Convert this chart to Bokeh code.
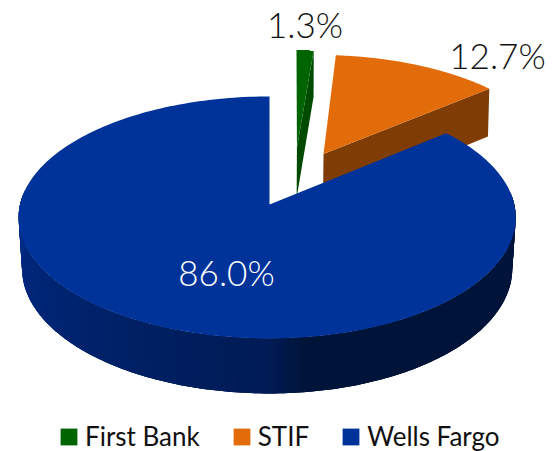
import numpy as np
from bokeh.plotting import figure
from bokeh.models import Range1d, Legend, LegendItem, ColumnDataSource
from bokeh.core.properties import value
from bokeh.embed import file_html
from bokeh.resources import INLINE

categories = ["First Bank", "STIF", "Wells Fargo"]
shares = [1.3, 12.7, 86.0]
top_colors = ["#006400", "#E26B0A", "#003399"]
side_colors = ["#004B00", "#7F3D05", "#00143A"]

# projection of the tilted pie
CX, CY, K, BY = 269.0, 204.0, 0.107, 119.6
AR, AL = 244.8, 249.5
explode = [0.5, 0.5, 0.0]
screen_shift = [22.7, 0.0, 0.0]

def project(u, v, dx=0.0):
    u, v = np.asarray(u, float), np.asarray(v, float)
    w = 1 + K * v
    a = np.where(u >= 0, AR, AL)
    return CX + a * u / w + dx, CY - BY * v / w

def lower(u, v, dx=0.0):
    x, y = project(u, v, dx)
    s = 0.9867 + 0.0067 * v
    return CX + (x - CX) * s, y + (51.6 - 3.4 * v)

p = figure(width=552, height=451, output_backend="svg", toolbar_location=None,
           x_range=Range1d(0, 552), y_range=Range1d(451, 0),
           min_border=0, outline_line_color=None, margin=0)
p.axis.visible = False
p.grid.visible = False
p.background_fill_color = None
p.border_fill_color = None

edges = np.radians(np.concatenate([[0], np.cumsum(shares)]) * 3.6)
renderers = []
for i in range(3):
    a0, a1 = edges[i], edges[i + 1]
    mid = (a0 + a1) / 2
    ou, ov = explode[i] * np.sin(mid), explode[i] * np.cos(mid)
    dx = screen_shift[i]
    t = np.linspace(a0, a1, 240)
    au, av = np.sin(t) + ou, np.cos(t) + ov
    if i < 2:
        cu = np.array([ou, np.sin(a1) + ou])
        cv = np.array([ov, np.cos(a1) + ov])
        x1, y1 = project(cu, cv, dx)
        x2, y2 = lower(cu, cv, dx)
        p.patch(np.r_[x1, x2[::-1]], np.r_[y1, y2[::-1]],
                fill_color=side_colors[i], line_color=None)
    else:
        # curved wall of the big slice; strips overlap the next one to hide seams
        st = np.radians(np.arange(84, 278, 1.0))
        xs, ys, cols = [], [], []
        for j in range(len(st) - 3):
            tt = st[j:j + 4]
            su, sv = np.sin(tt), np.cos(tt)
            x1, y1 = project(su, sv)
            x2, y2 = lower(su, sv)
            xs.append(np.r_[x1, x2[::-1]].tolist())
            ys.append(np.r_[y1, y2[::-1]].tolist())
            f = np.clip((np.degrees(st[j]) - 180) / 90, 0, 1)
            g = np.clip((np.degrees(st[j]) - 172) / 8, 0, 1)
            r0 = np.array([0x00, 0x1B, 0x55]) * (1 - f) + np.array([0x00, 0x2B, 0x85]) * f
            c = np.array([0x00, 0x14, 0x3A]) * (1 - g) + r0 * g
            cols.append("#%02x%02x%02x" % tuple(int(round(q)) for q in c))
        src = ColumnDataSource(dict(xs=xs, ys=ys, c=cols))
        p.patches("xs", "ys", source=src, fill_color="c", line_color=None)
    if i == 2:
        px, py = project(np.r_[0, au, 0], np.r_[0, av, 0], dx)
    else:
        px, py = project(np.r_[ou, au], np.r_[ov, av], dx)
    renderers.append(p.patch(px, py, fill_color=top_colors[i], line_color=None))

labels = ["%.1f%%" % s for s in shares]
label_x = [304.5, 497, 226]
label_y = [23, 54, 271]
label_c = ["#111111", "#111111", "#FFFFFF"]
p.text(label_x, label_y, text=labels, text_color=label_c, text_align="center",
       text_baseline="alphabetic", text_font=value("Lato Light"), text_font_size="35px")

legend = Legend(items=[LegendItem(label=c, renderers=[r]) for c, r in zip(categories, renderers)],
                orientation="horizontal", location=(58, -1), glyph_width=21, glyph_height=21,
                label_standoff=6, spacing=31, padding=0, margin=0,
                background_fill_alpha=0, border_line_color=None,
                label_text_font="Lato", label_text_font_size="26px", label_text_color="#111111",
                label_height=21)
p.add_layout(legend, "center")

open("out.html", "w").write(file_html(p, INLINE))
